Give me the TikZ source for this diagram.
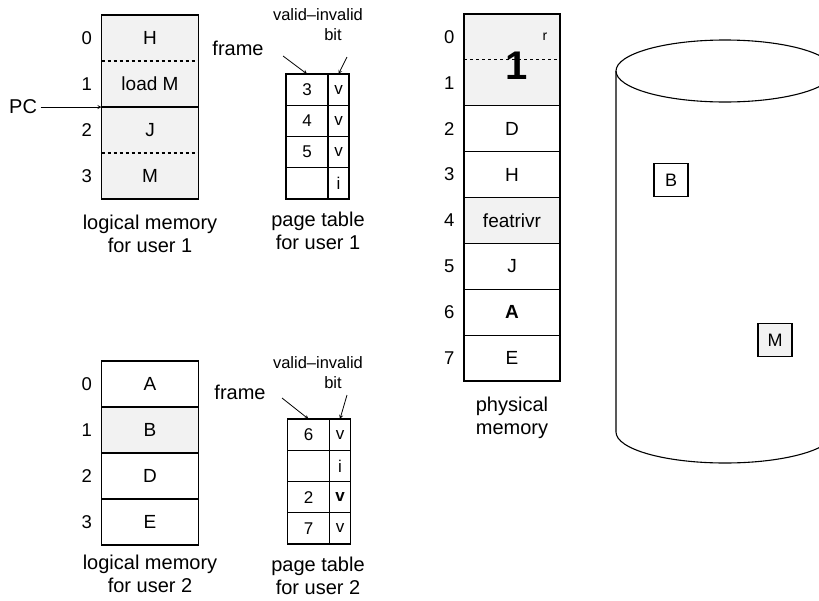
\documentclass[tikz,border=0pt]{standalone}
\usepackage{fontspec}
\setmainfont{Liberation Sans}
\usetikzlibrary{positioning}
\usetikzlibrary{calc}
\tikzstyle{box}     = [draw=black, line width=1.1pt, inner sep=0pt, outer sep=0pt, text centered]
\tikzstyle{lpage}   = [box, minimum width=97pt, minimum height=46pt, font=\fontsize{19}{19}\selectfont]
\tikzstyle{phys}    = [box, minimum width=96pt, minimum height=45.875pt, font=\fontsize{19}{19}\selectfont]
\tikzstyle{pfrm}    = [box, minimum width=42pt, minimum height=31.25pt, font=\fontsize{17}{17}\selectfont]
\tikzstyle{pbit}    = [box, minimum width=21pt, minimum height=31.25pt, font=\fontsize{17}{17}\selectfont]
\tikzstyle{blk}     = [box, minimum width=34pt, minimum height=33pt, font=\fontsize{18}{18}\selectfont]
\tikzstyle{shade}   = [fill=black!5]
\tikzstyle{noline}  = [draw=none]
\tikzstyle{num}     = [font=\fontsize{18.5}{18.5}\selectfont]
\tikzstyle{lbl}     = [font=\fontsize{20}{20}\selectfont]
\tikzstyle{small}   = [font=\fontsize{16.5}{16.5}\selectfont]
\tikzstyle{caption} = [align=center, font=\fontsize{20}{23}\selectfont]
\tikzstyle{ptr}     = [line width=0.8pt, -stealth]

\begin{document}
\begin{tikzpicture}[x=1pt, y=-1pt]
  \useasboundingbox (0,0) rectangle (819,600);

  % logical memory, user 1
  \node[lpage, shade, noline] (la0) at (150,38) {H};
  \node[lpage, shade, noline, below=0pt of la0] (la1) {load M};
  \node[lpage, shade, noline, below=0pt of la1] (la2) {J};
  \node[lpage, shade, noline, below=0pt of la2] (la3) {M};
  \draw[line width=1.1pt] (la0.north west) rectangle (la3.south east);
  \draw[line width=1.1pt, dashed] (la0.south west) -- (la0.south east);
  \draw[line width=1.1pt] (la1.south west) -- (la1.south east);
  \draw[line width=1.1pt, dashed] (la2.south west) -- (la2.south east);
  \foreach \i in {0,...,3}
    \node[num, left=6pt of la\i] {\i};
  \node[lbl, left=61pt of la1.south west] (pc) {PC};
  \draw[ptr] (pc) -- (la1.south west);
  \node[caption] (lcap1) at (150,234) {logical memory\\for user 1};

  % page table, user 1
  \node[pfrm] (pf0) at (307,89.6) {3};
  \node[pfrm, below=0pt of pf0] (pf1) {4};
  \node[pfrm, below=0pt of pf1] (pf2) {5};
  \node[pfrm, below=0pt of pf2] (pf3) {};
  \node[pbit, right=0pt of pf0] (pb0) {v};
  \node[pbit, right=0pt of pf1] (pb1) {v};
  \node[pbit, right=0pt of pf2] (pb2) {v};
  \node[pbit, right=0pt of pf3] (pb3) {i};
  \node[lbl] (frm1) at (238,48) {frame};
  \node[small] (vi1) at (318,15) {valid--invalid};
  \node[small] (bit1) at (333,35) {bit};
  \coordinate (ft1) at (283,56);
  \coordinate (bt1) at (347,57);
  \draw[ptr] (ft1) -- (pf0.north);
  \draw[ptr] (bt1) -- (pb0.north);
  \node[caption] (pcap1) at (318,231) {page table\\for user 1};

  % physical memory
  \node[phys, shade, noline] (p0) at (512,36.9) {};
  \node[phys, shade, noline, below=0pt of p0] (p1) {};
  \node[phys, below=0pt of p1] (p2) {D};
  \node[phys, below=0pt of p2] (p3) {H};
  \node[phys, shade, below=0pt of p3] (p4) {featrivr};
  \node[phys, below=0pt of p4] (p5) {J};
  \node[phys, below=0pt of p5] (p6) {\textbf{A}};
  \node[phys, below=0pt of p6] (p7) {E};
  \draw[line width=1.1pt] (p0.north west) rectangle (p1.south east);
  \draw[line width=1.1pt, dashed] (p0.south west) -- (p0.south east);
  \node[font=\fontsize{14}{14}\selectfont] (pr) at (545,37) {r};
  \node[font=\bfseries\fontsize{40}{40}\selectfont] (pone) at (517,66) {1};
  \foreach \i in {0,...,7}
    \node[num, left=6pt of p\i] {\i};
  \node[caption] (physcap) at (512,418) {physical\\memory};

  % logical memory, user 2
  \node[lpage] (lb0) at (150,384) {A};
  \node[lpage, shade, below=0pt of lb0] (lb1) {B};
  \node[lpage, below=0pt of lb1] (lb2) {D};
  \node[lpage, below=0pt of lb2] (lb3) {E};
  \foreach \i in {0,...,3}
    \node[num, left=6pt of lb\i] {\i};
  \node[caption] (lcap2) at (150,574) {logical memory\\for user 2};

  % page table, user 2
  \node[pfrm] (qf0) at (308.5,434.6) {6};
  \node[pfrm, below=0pt of qf0] (qf1) {};
  \node[pfrm, below=0pt of qf1] (qf2) {2};
  \node[pfrm, below=0pt of qf2] (qf3) {7};
  \node[pbit, right=0pt of qf0] (qb0) {v};
  \node[pbit, right=0pt of qf1] (qb1) {i};
  \node[pbit, right=0pt of qf2] (qb2) {\textbf{v}};
  \node[pbit, right=0pt of qf3] (qb3) {v};
  \node[lbl] (frm2) at (240,392) {frame};
  \node[small] (vi2) at (318,363) {valid--invalid};
  \node[small] (bit2) at (333,383) {bit};
  \coordinate (ft2) at (282,398);
  \coordinate (bt2) at (347,395);
  \draw[ptr] (ft2) -- (qf0.north);
  \draw[ptr] (bt2) -- (qb0.north);
  \node[caption] (pcap2) at (318,576) {page table\\for user 2};

  % disk
  \begin{scope}
    \clip (0,0) rectangle (819,600);
    \draw[line width=1.1pt] (725,71) ellipse [x radius=109pt, y radius=31pt];
    \draw[line width=1.1pt] (616,71) -- (616,432)
      arc[start angle=180, end angle=360, x radius=109pt, y radius=31pt]
      -- (834,71);
  \end{scope}
  \node[blk] (dB) at (671,180) {B};
  \node[blk, shade] (dM) at (775,340) {M};
\end{tikzpicture}
\end{document}
